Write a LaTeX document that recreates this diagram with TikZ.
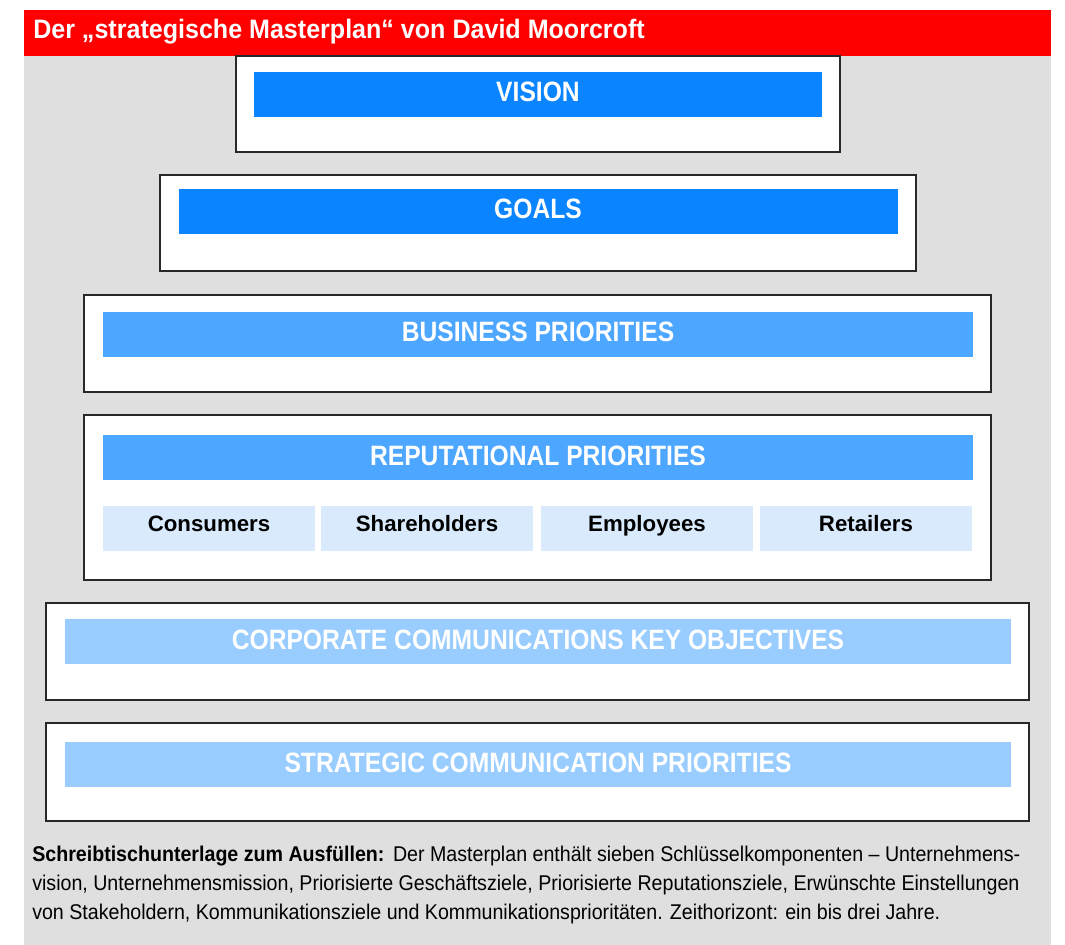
\documentclass[tikz,border=0pt]{standalone}
\usepackage{fontspec}
\setmainfont{Liberation Sans}
\newfontfamily\headfont[FakeStretch=0.88]{Liberation Sans}
\newfontfamily\titlefont[FakeStretch=0.94]{Liberation Sans}
\newfontfamily\notefont[FakeStretch=0.92]{Liberation Sans}
\usetikzlibrary{calc}

\definecolor{titlered}{RGB}{255,0,0}
\definecolor{panelgrey}{RGB}{223,223,223}
\definecolor{deepblue}{RGB}{10,132,255}
\definecolor{midblue}{RGB}{77,166,255}
\definecolor{paleblue}{RGB}{153,204,255}
\definecolor{iceblue}{RGB}{217,234,252}
\definecolor{framegrey}{RGB}{40,40,40}

\tikzset{
  frame/.style={draw=framegrey, fill=white, line width=0.8pt},
  bartext/.style={anchor=base, inner sep=0pt, text=white, font=\headfont\bfseries\fontsize{21}{24}\selectfont},
  grouptext/.style={anchor=base, inner sep=0pt, text=black, font=\bfseries\fontsize{16.7}{19}\selectfont},
  notetext/.style={anchor=base west, inner sep=0pt, font=\notefont\fontsize{16}{19}\selectfont}
}

\begin{document}
\begin{tikzpicture}[x=0.75pt,y=-0.75pt]
\useasboundingbox (0,0) rectangle (1065,945);
\fill[white] (0,0) rectangle (1065,945);

% panel and title band
\fill[panelgrey] (24,10) rectangle (1051,945);
\fill[titlered] (24,10) rectangle (1051,56);
\node[anchor=base west, inner sep=0pt, text=white, font=\titlefont\bfseries\fontsize{20}{23}\selectfont] (title) at (33,39) {Der „strategische Masterplan“ von David Moorcroft};

% vision
\draw[frame] (236,56) rectangle (840,152);
\fill[deepblue] (254,72) rectangle (822,117);
\node[bartext] (vision) at (538,102) {VISION};

% goals
\draw[frame] (160,175) rectangle (916,271);
\fill[deepblue] (179,189) rectangle (898,234);
\node[bartext] (goals) at (538,219) {GOALS};

% business priorities
\draw[frame] (84,295) rectangle (991,392);
\fill[midblue] (103,312) rectangle (973,357);
\node[bartext] (business) at (538,342) {BUSINESS PRIORITIES};

% reputational priorities with stakeholder groups
\draw[frame] (84,415) rectangle (991,580);
\fill[midblue] (103,435) rectangle (973,480);
\node[bartext] (reputation) at (538,465) {REPUTATIONAL PRIORITIES};
\foreach \x/\name/\label in {103/consumers/Consumers, 321/shareholders/Shareholders, 541/employees/Employees, 760/retailers/Retailers} {
  \fill[iceblue] (\x,506) rectangle (\x+212,551);
  \node[grouptext] (\name) at (\x+106,531) {\label};
}

% corporate communications key objectives
\draw[frame] (46,603) rectangle (1029,700);
\fill[paleblue] (65,619) rectangle (1011,664);
\node[bartext] (objectives) at (538,649) {CORPORATE COMMUNICATIONS KEY OBJECTIVES};

% strategic communication priorities
\draw[frame] (46,723) rectangle (1029,821);
\fill[paleblue] (65,742) rectangle (1011,787);
\node[bartext] (strategic) at (538,772) {STRATEGIC COMMUNICATION PRIORITIES};

% note below
\node[notetext] (note1) at (32,861) {\textbf{Schreibtischunterlage zum Ausfüllen:}\hspace{0.4em}Der Masterplan enthält sieben Schlüsselkomponenten – Unternehmens-};
\node[notetext] (note2) at (32,890) {vision, Unternehmensmission, Priorisierte Geschäftsziele, Priorisierte Reputationsziele, Erwünschte Einstellungen};
\node[notetext] (note3) at (32,919) {von Stakeholdern, Kommunikationsziele und Kommunikationsprioritäten. Zeithorizont: ein bis drei Jahre.};

\end{tikzpicture}
\end{document}
